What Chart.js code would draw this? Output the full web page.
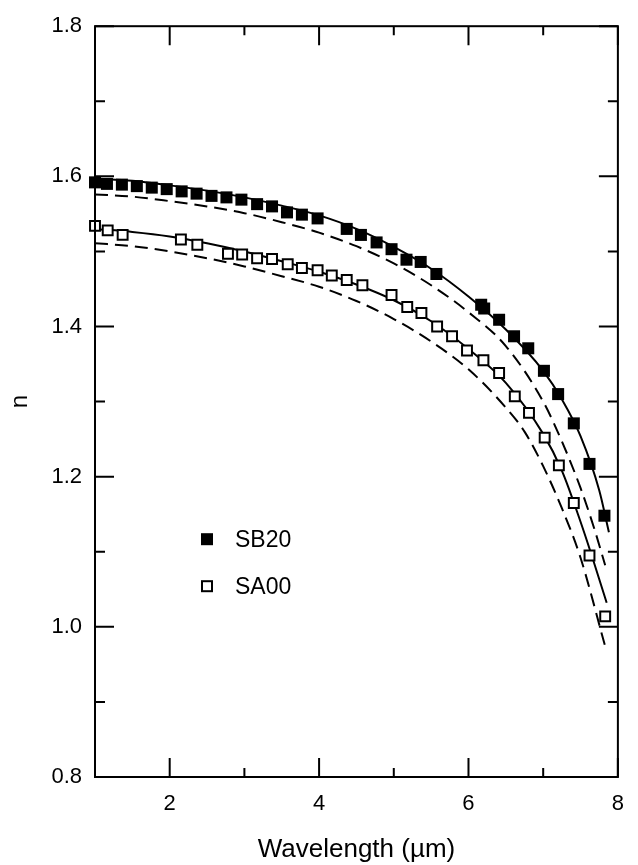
<!DOCTYPE html>
<html>
<head>
<meta charset="utf-8">
<script src="https://cdn.jsdelivr.net/npm/chart.js@4.4.1/dist/chart.umd.min.js"></script>
<style>
  body { margin: 0; background: #fff; }
  canvas { display: block; }
</style>
</head>
<body>
<canvas id="chart-n" width="638" height="865"></canvas>
<script>
const FONT = "'Liberation Sans', Arial, Helvetica, sans-serif";

// measured points
const sb20Wave = [1.00, 1.16, 1.36, 1.56, 1.76, 1.96, 2.16, 2.36, 2.56, 2.76, 2.96, 3.17, 3.37, 3.57, 3.77, 3.98,
    4.37, 4.56, 4.77, 4.97, 5.17, 5.36, 5.57, 6.17, 6.21, 6.41, 6.61, 6.80, 7.01, 7.20, 7.41, 7.62, 7.82];
const sb20N = [1.592, 1.590, 1.589, 1.587, 1.585, 1.583, 1.580, 1.577, 1.574, 1.572, 1.569, 1.563, 1.560, 1.552, 1.549, 1.544,
    1.530, 1.522, 1.512, 1.503, 1.489, 1.486, 1.470, 1.429, 1.424, 1.409, 1.387, 1.371, 1.341, 1.310, 1.271, 1.217, 1.148];

const sa00Wave = [1.00, 1.17, 1.37, 2.15, 2.37, 2.78, 2.97, 3.17, 3.37, 3.58, 3.77, 3.98, 4.17, 4.37, 4.58,
    4.97, 5.18, 5.37, 5.58, 5.78, 5.98, 6.20, 6.41, 6.62, 6.81, 7.02, 7.21, 7.41, 7.62, 7.83];
const sa00N = [1.534, 1.528, 1.522, 1.516, 1.509, 1.497, 1.496, 1.491, 1.490, 1.483, 1.478, 1.475, 1.468, 1.462, 1.455,
    1.442, 1.426, 1.418, 1.400, 1.387, 1.368, 1.355, 1.338, 1.307, 1.285, 1.252, 1.215, 1.165, 1.095, 1.014];

// curves (solid = fit, dashed = model)
const sb20FitWave = [1.0, 1.5, 2, 2.5, 3, 3.5, 4, 4.5, 5, 5.5, 6, 6.5, 7, 7.25, 7.5, 7.75, 7.88];
const sb20FitN = [1.597, 1.594, 1.588, 1.581, 1.572, 1.561, 1.548, 1.530, 1.506, 1.477, 1.440, 1.396, 1.341, 1.303, 1.254, 1.182, 1.126];

const sb20ModelWave = [1.0, 1.5, 2, 2.5, 3, 3.5, 4, 4.5, 5, 5.5, 6, 6.5, 7, 7.25, 7.5, 7.68, 7.83];
const sb20ModelN = [1.576, 1.573, 1.567, 1.560, 1.551, 1.539, 1.525, 1.507, 1.484, 1.455, 1.419, 1.374, 1.300, 1.247, 1.185, 1.132, 1.082];

const sa00FitWave = [1.0, 1.5, 2, 2.5, 3, 3.5, 4, 4.5, 5, 5.5, 6, 6.5, 7, 7.25, 7.5, 7.65, 7.85];
const sa00FitN = [1.530, 1.526, 1.520, 1.511, 1.500, 1.487, 1.473, 1.456, 1.435, 1.407, 1.370, 1.325, 1.257, 1.208, 1.140, 1.095, 1.032];

const sa00ModelWave = [1.0, 1.5, 2, 2.5, 3, 3.5, 4, 4.5, 5, 5.5, 6, 6.5, 6.75, 7, 7.25, 7.5, 7.83];
const sa00ModelN = [1.511, 1.507, 1.500, 1.491, 1.480, 1.467, 1.453, 1.434, 1.410, 1.380, 1.343, 1.292, 1.260, 1.214, 1.158, 1.092, 0.974];

const xTicks = [2, 4, 6, 8];
const yTicks = [0.8, 1.0, 1.2, 1.4, 1.6, 1.8];


function toPoints(xs, ys) {
    return xs.map((x, i) => ({x: x, y: ys[i]}));
}

function curve(xs, ys, dashed) {
    return {
        type: 'line',
        data: toPoints(xs, ys),
        borderColor: '#000',
        borderWidth: 2,
        borderDash: dashed ? [13, 7] : [],
        pointRadius: 0,
        cubicInterpolationMode: 'monotone',
        fill: false,
        order: 2,
    };
}

// box, inward ticks and the inset legend
const frame = {
    id: 'frame',
    afterDraw(chart) {
        const ctx = chart.ctx;
        const a = chart.chartArea;
        const sx = chart.scales.x;
        const sy = chart.scales.y;
        ctx.save();
        ctx.strokeStyle = '#000';
        ctx.lineWidth = 2;
        ctx.strokeRect(a.left, a.top, a.right - a.left, a.bottom - a.top);

        ctx.beginPath();
        sx.ticks.forEach(t => {
            const px = sx.getPixelForValue(t.value);
            const len = xTicks.includes(Math.round(t.value)) ? 19 : 9;
            ctx.moveTo(px, a.bottom); ctx.lineTo(px, a.bottom - len);
            ctx.moveTo(px, a.top); ctx.lineTo(px, a.top + len);
        });
        sy.ticks.forEach(t => {
            const py = sy.getPixelForValue(t.value);
            const len = Math.round(t.value * 10) % 2 === 0 ? 19 : 10;
            ctx.moveTo(a.left, py); ctx.lineTo(a.left + len, py);
            ctx.moveTo(a.right, py); ctx.lineTo(a.right - len, py);
        });
        ctx.stroke();

        // legend
        const lx = a.left + 112;
        const ly1 = a.top + 513;
        const ly2 = a.top + 560;
        ctx.fillStyle = '#000';
        ctx.fillRect(lx - 6, ly1 - 6, 12, 12);
        ctx.fillStyle = '#fff';
        ctx.fillRect(lx - 5, ly2 - 5, 10, 10);
        ctx.lineWidth = 2;
        ctx.strokeRect(lx - 5, ly2 - 5, 10, 10);
        ctx.fillStyle = '#000';
        ctx.font = '23px ' + FONT;
        ctx.textBaseline = 'middle';
        ctx.textAlign = 'left';
        ctx.fillText(chart.data.datasets[0].label, lx + 28, ly1 + 1);
        ctx.fillText(chart.data.datasets[1].label, lx + 28, ly2 + 1);
        ctx.restore();
    }
};

const canvasN = document.getElementById('chart-n');
new Chart(canvasN, {
    data: {
        datasets: [
            {
                type: 'scatter',
                label: 'SB20',
                data: toPoints(sb20Wave, sb20N),
                pointStyle: 'rect',
                pointRadius: 8.5,
                backgroundColor: '#000',
                borderColor: '#000',
                borderWidth: 0,
                clip: false,
                order: 0,
            },
            {
                type: 'scatter',
                label: 'SA00',
                data: toPoints(sa00Wave, sa00N),
                pointStyle: 'rect',
                pointRadius: 7,
                backgroundColor: '#fff',
                borderColor: '#000',
                borderWidth: 2,
                clip: false,
                order: 1,
            },
            curve(sb20FitWave, sb20FitN, false),
            curve(sb20ModelWave, sb20ModelN, true),
            curve(sa00FitWave, sa00FitN, false),
            curve(sa00ModelWave, sa00ModelN, true),
        ]
    },
    options: {
        responsive: false,
        animation: false,
        layout: {
            padding: {top: 19, right: 10, left: 0, bottom: 0}
        },
        plugins: {
            legend: {display: false},
            tooltip: {enabled: false},
        },
        scales: {
            x: {
                type: 'linear',
                min: 1,
                max: 8,
                grid: {display: false, drawTicks: false},
                border: {display: false},
                ticks: {
                    stepSize: 1,
                    padding: 14,
                    color: '#000',
                    maxRotation: 0,
                    autoSkip: false,
                    font: {size: 22, family: FONT},
                    callback: v => xTicks.includes(Math.round(v)) ? String(Math.round(v)) : '',
                },
                title: {
                    display: true,
                    text: 'Wavelength (\u00b5m)',
                    color: '#000',
                    font: {size: 26, family: FONT},
                    padding: {top: 4, bottom: 0},
                },
                afterFit: scale => { scale.height = 88; },
            },
            y: {
                type: 'linear',
                min: 0.8,
                max: 1.8,
                grid: {display: false, drawTicks: false},
                border: {display: false},
                ticks: {
                    stepSize: 0.1,
                    padding: 13,
                    color: '#000',
                    autoSkip: false,
                    font: {size: 22, family: FONT},
                    callback: v => Math.round(v * 10) % 2 === 0 ? v.toFixed(1) : '',
                },
                title: {
                    display: true,
                    text: 'n',
                    color: '#000',
                    font: {size: 24, family: FONT},
                    padding: {top: 6, bottom: 0},
                },
                afterFit: scale => { scale.width = 95; },
            },
        },
    },
    plugins: [frame],
});
</script>
</body>
</html>
